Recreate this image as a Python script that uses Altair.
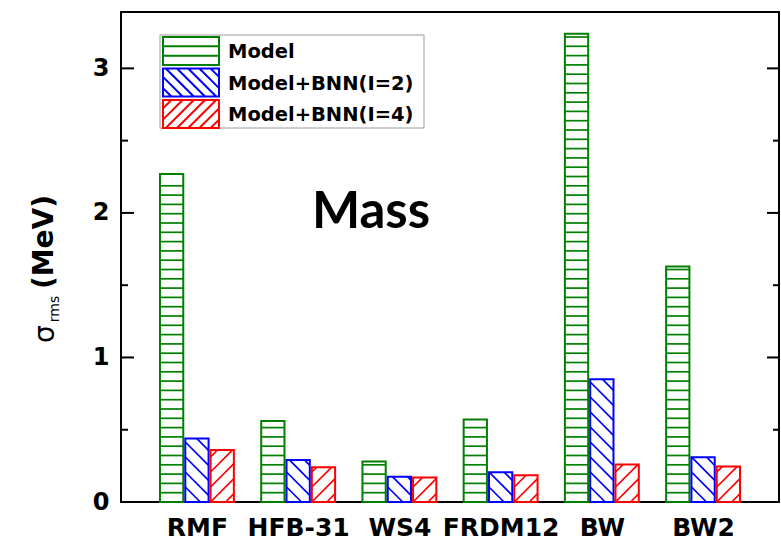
import json
import altair as alt
import pandas as pd

# ---------------- data ----------------
categories = ["RMF", "HFB-31", "WS4", "FRDM12", "BW", "BW2"]
series = ["Model", "Model+BNN(I=2)", "Model+BNN(I=4)"]
model = [2.27, 0.56, 0.28, 0.57, 3.24, 1.63]
bnn_i2 = [0.44, 0.29, 0.175, 0.205, 0.85, 0.31]
bnn_i4 = [0.36, 0.24, 0.17, 0.185, 0.26, 0.245]
colors = ["#008000", "#0000FF", "#FF0000"]
y_major = [0, 1, 2, 3]
y_minor = [0.5, 1.5, 2.5]

# ---------------- geometry / style ----------------
W, H = 658, 490
XDOM = [0.25, 6.75]
YDOM = [0, 3.39]
PX_X = W / (XDOM[1] - XDOM[0])
PX_Y = H / (YDOM[1] - YDOM[0])
OFF = 0.25      # offset between bars in a group (x units)
HALF = 0.115    # half bar width (x units)
SH = 9.3        # horizontal hatch spacing (px)
SD = 15.0       # diagonal hatch spacing (px, vertical)
FONT = "DejaVu Sans"

rows = []
for s_i, (s, vals) in enumerate(zip(series, [model, bnn_i2, bnn_i4])):
    for c_i, (c, v) in enumerate(zip(categories, vals)):
        xc = c_i + 1 + (s_i - 1) * OFF
        rows.append(dict(cat=c, series=s, sidx=s_i, v=v, xl=xc - HALF, xr=xc + HALF))
bars = pd.DataFrame(rows)

# hatch lines derived from the bar values
hatch = []
for r in rows:
    Wp = (r["xr"] - r["xl"]) * PX_X
    Hp = r["v"] * PX_Y
    if r["sidx"] == 0:
        k = 1
        while k * SH < Hp - 3:
            yy = k * SH / PX_Y
            hatch.append(dict(series=r["series"], x1=r["xl"], x2=r["xr"], y1=yy, y2=yy))
            k += 1
    else:
        for k in range(-int(Wp / SD) - 3, int(Hp / SD) + 4):
            c = k * SD
            if r["sidx"] == 2:  # '/'  Y = X + c
                lo, hi = max(0, -c), min(Wp, Hp - c)
                if hi - lo > 0.8:
                    p1, p2 = (lo, lo + c), (hi, hi + c)
                else:
                    continue
            else:  # '\'  Y = -X + c
                lo, hi = max(0, c - Hp), min(Wp, c)
                if hi - lo > 0.8:
                    p1, p2 = (lo, c - lo), (hi, c - hi)
                else:
                    continue
            hatch.append(dict(series=r["series"],
                              x1=r["xl"] + p1[0] / PX_X, y1=p1[1] / PX_Y,
                              x2=r["xl"] + p2[0] / PX_X, y2=p2[1] / PX_Y))
hatch_df = pd.DataFrame(hatch)


# legend swatch symbol paths (unit box x in [-2,2], y in [-1,1])
def diag_path(sign):
    parts = ["M-2,-1H2V1H-2Z"]
    c = -4.0
    while c <= 4.0:
        pts = []
        if sign > 0:  # '\' in screen coords: y = x + c
            lo, hi = max(-2, -1 - c), min(2, 1 - c)
            if hi > lo:
                pts = [(lo, lo + c), (hi, hi + c)]
        else:  # '/' : y = -x + c
            lo, hi = max(-2, c - 1), min(2, c + 1)
            if hi > lo:
                pts = [(lo, c - lo), (hi, c - hi)]
        if pts and hi - lo > 0.05:
            parts.append("M%.3f,%.3fL%.3f,%.3f" % (pts[0][0], pts[0][1], pts[1][0], pts[1][1]))
        c += 0.8
    return " ".join(parts)


paths = ["M-2,-1H2V1H-2Z M-2,-0.333H2 M-2,0.333H2", diag_path(1), diag_path(-1)]
legend_df = pd.DataFrame({"series": series, "i": list(range(len(series)))})

# ---------------- scales / axes ----------------
xscale = alt.Scale(domain=XDOM, nice=False, zero=False)
yscale = alt.Scale(domain=YDOM, nice=False, zero=False)
color_scale = alt.Scale(domain=series, range=colors)

xaxis = alt.Axis(values=list(range(1, len(categories) + 1)),
                 labelExpr=json.dumps(categories) + "[datum.value - 1]",
                 ticks=False, domain=False, grid=False, title=None,
                 labelFont=FONT, labelFontWeight="bold", labelFontSize=25,
                 labelColor="black", labelPadding=13, labelFlush=False,
                 labelOverlap=False)
yaxis = alt.Axis(values=y_major, format="d", ticks=False, domain=False, grid=False,
                 title=None, labelFont=FONT, labelFontWeight="bold", labelFontSize=24,
                 labelColor="black", labelPadding=12, labelFlush=False,
                 labelOverlap=False)

hatch_layer = alt.Chart(hatch_df).mark_rule(strokeWidth=1.7).encode(
    x=alt.X("x1:Q", scale=xscale, axis=xaxis),
    x2="x2:Q",
    y=alt.Y("y1:Q", scale=yscale, axis=yaxis),
    y2="y2:Q",
    color=alt.Color("series:N", scale=color_scale, legend=None),
)

bar_layer = alt.Chart(bars).mark_rect(fillOpacity=0, strokeWidth=2).transform_calculate(
    zero="0"
).encode(
    x=alt.X("xl:Q", scale=xscale, axis=xaxis),
    x2="xr:Q",
    y=alt.Y("v:Q", scale=yscale, axis=yaxis),
    y2="zero:Q",
    stroke=alt.Stroke("series:N", scale=color_scale, legend=None),
)

major_df = pd.DataFrame({"t": y_major})
minor_df = pd.DataFrame({"t": y_minor})


def ticks(df, x0, x1):
    return alt.Chart(df).mark_rule(color="black", strokeWidth=2).encode(
        x=alt.value(x0), x2=alt.value(x1),
        y=alt.Y("t:Q", scale=yscale, axis=yaxis))


tick_layers = [ticks(major_df, 0, 13), ticks(minor_df, 0, 7),
               ticks(major_df, W - 12, W), ticks(minor_df, W - 6, W)]

one = pd.DataFrame({"a": [0]})

legend_box = alt.Chart(one).mark_rect(fill="white", stroke="#9a9a9a", strokeWidth=1).encode(
    x=alt.value(39), x2=alt.value(303), y=alt.value(23), y2=alt.value(116))

legend_sym = alt.Chart(legend_df).mark_point(filled=False, size=784, strokeWidth=2, opacity=1).transform_calculate(
    py="39 + 31.5 * datum.i"
).encode(
    x=alt.value(70),
    y=alt.Y("py:Q", scale=None),
    shape=alt.Shape("series:N", scale=alt.Scale(domain=series, range=paths), legend=None),
    stroke=alt.Stroke("series:N", scale=color_scale, legend=None),
)

legend_txt = alt.Chart(legend_df).mark_text(
    align="left", baseline="middle", font=FONT, fontWeight="bold", fontSize=19.5, color="black"
).transform_calculate(
    py="40 + 31.5 * datum.i"
).encode(
    x=alt.value(107),
    y=alt.Y("py:Q", scale=None),
    text="series:N",
)

mass = alt.Chart(one).mark_text(
    text="Mass", font="Lato", fontWeight="bold", fontSize=51, color="black",
    align="center", baseline="middle"
).encode(x=alt.value(250), y=alt.value(201))

ytitle_sigma = alt.Chart(one).mark_text(
    text="σ", font=FONT, fontSize=28, angle=270, color="black",
    align="center", baseline="middle").encode(x=alt.value(-75), y=alt.value(322))
ytitle_rms = alt.Chart(one).mark_text(
    text="rms", font=FONT, fontSize=14, angle=270, color="black",
    align="center", baseline="middle").encode(x=alt.value(-66), y=alt.value(297))
ytitle_mev = alt.Chart(one).mark_text(
    text="(MeV)", font=FONT, fontWeight="bold", fontSize=28, angle=270, color="black",
    align="center", baseline="middle").encode(x=alt.value(-76), y=alt.value(230))

chart = alt.layer(
    hatch_layer, bar_layer, *tick_layers, legend_box, legend_sym, legend_txt,
    mass, ytitle_sigma, ytitle_rms, ytitle_mev
).properties(
    width=W, height=H,
    padding={"left": 121, "top": 12, "right": 2, "bottom": 49},
    autosize=alt.AutoSizeParams(type="none"),
    background="white",
).configure_view(stroke="black", strokeWidth=2)

chart.save("out.html", embed_options={"renderer": "svg", "actions": False})
